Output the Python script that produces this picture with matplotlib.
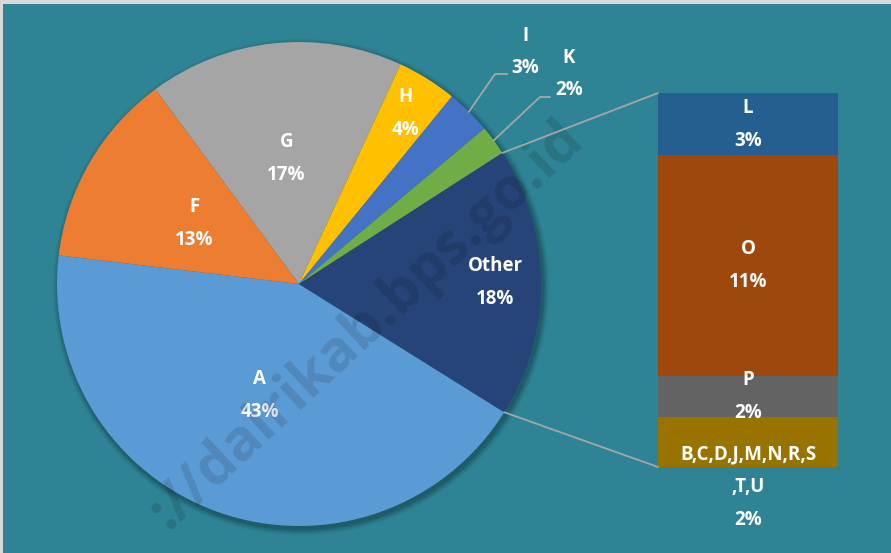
import matplotlib.pyplot as plt
from matplotlib.patches import ConnectionPatch, Rectangle
import numpy as np

# pie slices (clockwise from the lower right)
pie_labels = ['A', 'F', 'G', 'H', 'I', 'K', 'Other']
pie_values = [43, 13, 17, 4, 3, 2, 18]
pie_colors = ['#5B9BD5', '#ED7D31', '#A5A5A5', '#FFC000', '#4472C4', '#70AD47', '#264478']

# breakdown of "Other" (bottom to top)
bar_labels = ['B,C,D,J,M,N,R,S\n,T,U', 'P', 'O', 'L']
bar_values = [2.4, 2.0, 10.6, 3.0]
bar_colors = ['#997300', '#636363', '#9E480E', '#255E91']

BG = '#2E8494'
W, H = 891, 553
FONT = ['Open Sans', 'DejaVu Sans']

fig = plt.figure(figsize=(W / 100, H / 100), dpi=100)
fig.patch.set_facecolor(BG)

# main axes in pixel units, y pointing up
ax = fig.add_axes([0, 0, 1, 1])
cx, cy, r = 299, H - 284, 242
wedges, _ = ax.pie(pie_values, colors=pie_colors, startangle=-32, counterclock=False,
                   center=(cx, cy), radius=r,
                   wedgeprops=dict(linewidth=0))
ax.set_xlim(0, W)
ax.set_ylim(0, H)
ax.set_aspect('equal')
ax.set_axis_off()

# soft shadow behind pie
for k, a in zip(range(8, 0, -1), np.linspace(0.02, 0.06, 8)):
    ax.add_patch(plt.Circle((cx + 2, cy - 3), r + k * 0.8, color='black',
                            alpha=a, lw=0, zorder=0))

def mid_angle(w):
    return np.deg2rad((w.theta1 + w.theta2) / 2)

TXT = dict(ha='center', va='center', color='white', fontsize=13.5,
           fontweight='bold', linespacing=1.85, family=FONT, zorder=5)

# labels inside slices
label_dist = {'A': 0.49, 'F': 0.50, 'G': 0.52, 'H': 0.83, 'Other': 0.81}
for w, lab, val in zip(wedges, pie_labels, pie_values):
    if lab not in label_dist:
        continue
    t = mid_angle(w)
    d = label_dist[lab] * r
    ax.text(cx + d * np.cos(t), cy + d * np.sin(t), f'{lab}\n{val}%', **TXT)

# outside labels with leader lines
outside = {'I': ((495, H - 74), (507, H - 74), (525, H - 52)),
           'K': ((540, H - 97), (550, H - 97), (569, H - 74))}
for w, lab, val in zip(wedges, pie_labels, pie_values):
    if lab not in outside:
        continue
    t = mid_angle(w)
    p0 = (cx + r * np.cos(t), cy + r * np.sin(t))
    p1, p2, pt = outside[lab]
    ax.plot([p0[0], p1[0], p2[0]], [p0[1], p1[1], p2[1]], color='#A6A6A6', lw=1.3, zorder=4)
    ax.text(pt[0], pt[1], f'{lab}\n{val}%', **TXT)

# stacked bar for "Other"
bx = fig.add_axes([658 / W, (H - 467) / H, 180 / W, 374 / H])
bottom = 0
for lab, val, col in zip(bar_labels, bar_values, bar_colors):
    bx.bar(0, val, bottom=bottom, width=1, color=col, linewidth=0)
    bottom += val
bx.set_xlim(-0.5, 0.5)
bx.set_ylim(0, sum(bar_values))
bx.set_axis_off()
bx.patch.set_alpha(0)

# bar labels
bottom = 0
for lab, val in zip(bar_labels, bar_values):
    ytxt = bottom + val / 2
    if lab.startswith('B,'):
        ytxt = bottom - 0.98
    bx.text(0, ytxt, f'{lab}\n{round(val)}%', clip_on=False, **TXT)
    bottom += val

# connector lines from the "Other" slice to the bar
other = wedges[-1]
t_top = np.deg2rad(other.theta2)
t_bot = np.deg2rad(other.theta1)
for t, ybar in ((t_top, sum(bar_values)), (t_bot, 0)):
    con = ConnectionPatch(xyA=(cx + r * np.cos(t), cy + r * np.sin(t)), coordsA=ax.transData,
                          xyB=(-0.5, ybar), coordsB=bx.transData,
                          color='#A6A6A6', lw=1.3, zorder=3)
    fig.add_artist(con)

# watermark
ax.text(586, H - 142, '://dairikab.bps.go.id', rotation=43, rotation_mode='anchor',
        ha='right', va='baseline', fontsize=41, fontweight='bold', color='black',
        alpha=0.12, family=FONT, zorder=6)

# light frame at top and left edge
fig.add_artist(Rectangle((0, 1 - 4 / H), 1, 4 / H, transform=fig.transFigure,
                         color='#D9D9D9', lw=0))
fig.add_artist(Rectangle((0, 0), 3 / W, 1, transform=fig.transFigure,
                         color='#D9D9D9', lw=0))

fig.savefig('out.png', dpi=100, facecolor=BG)
